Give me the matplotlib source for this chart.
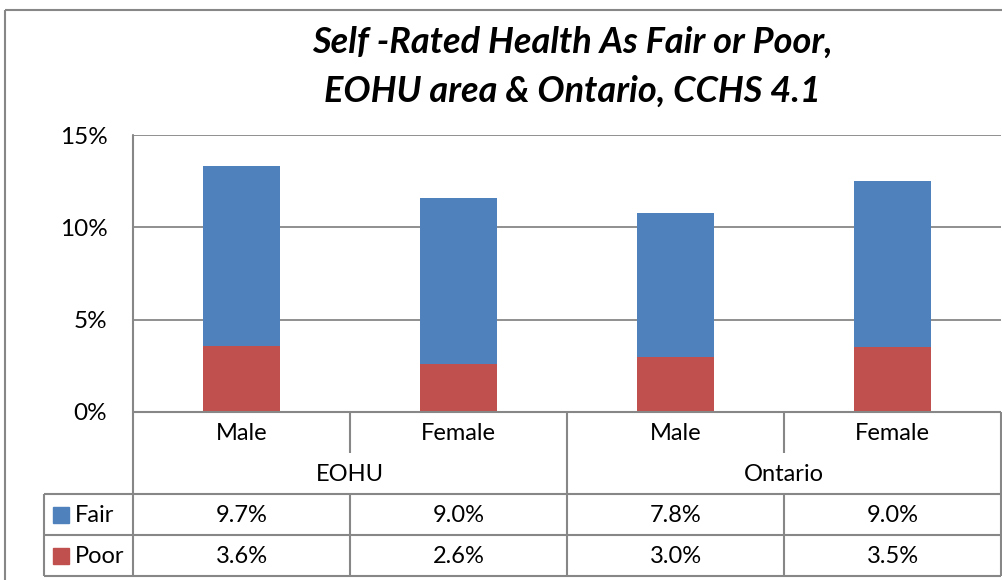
import matplotlib
matplotlib.use("Agg")
import matplotlib.pyplot as plt
from matplotlib.patches import Rectangle

# ---- data ----
categories = ["Male", "Female", "Male", "Female"]
groups = ["EOHU", "Ontario"]
fair = [9.7, 9.0, 7.8, 9.0]
poor = [3.6, 2.6, 3.0, 3.5]
series_names = ["Fair", "Poor"]
yticks = [0, 5, 10, 15]
title = "Self -Rated Health As Fair or Poor,\nEOHU area & Ontario, CCHS 4.1"

BLUE = "#4F81BD"
RED = "#C0504D"
GRID = "#878787"
FONT = "Lato"

W, H = 1003, 580
fig = plt.figure(figsize=(W / 100, H / 100), dpi=100)
fig.patch.set_facecolor("white")

# plot area in pixels
PL, PR, PT, PB = 133, 1001, 135, 412

ax = fig.add_axes([PL / W, 1 - PB / H, (PR - PL) / W, (PB - PT) / H])
x = list(range(len(categories)))
ax.bar(x, poor, width=0.355, color=RED, zorder=3)
ax.bar(x, fair, width=0.355, bottom=poor, color=BLUE, zorder=3)
ax.set_xlim(-0.5, len(categories) - 0.5)
ax.set_ylim(0, 15)
ax.set_yticks(yticks)
ax.set_yticklabels([f"{v}%" for v in yticks], fontsize=17.5, family=FONT)
ax.tick_params(axis="y", length=0, pad=18.5)
ax.set_xticks([])
ax.grid(axis="y", color=GRID, linewidth=1.3, zorder=0)
for s in ["top", "right", "bottom"]:
    ax.spines[s].set_visible(False)
ax.spines["left"].set_color(GRID)
ax.spines["left"].set_linewidth(1.3)
ax.set_facecolor("none")

# overlay in pixel coordinates for the data table and frame
ov = fig.add_axes([0, 0, 1, 1])
ov.set_xlim(0, W)
ov.set_ylim(H, 0)
ov.axis("off")
ov.set_facecolor("none")

lw = 1.5
def hl(y, x0, x1):
    ov.plot([x0, x1], [y, y], color=GRID, lw=lw, solid_capstyle="butt")
def vl(x_, y0, y1):
    ov.plot([x_, x_], [y0, y1], color=GRID, lw=lw, solid_capstyle="butt")

# outer chart frame
vl(5, 10, H)
hl(10, 5, W)

n = len(categories)
cw = (PR - PL) / n
R1, R2, R3, R4, R5 = 412, 453, 494, 535, 576
LL = 44

hl(R1, PL, PR)
hl(R3, LL, PR)
hl(R4, LL, PR)
hl(R5, LL, PR)
vl(LL, R3, R5)
vl(PL, PT, R5)
for i in range(1, n):
    xx = PL + i * cw
    if i % 2 == 0:
        vl(xx, R1, R5)
    else:
        vl(xx, R1, R2)
        vl(xx, R3, R5)
vl(PR, R1, R5)

fs = 17
for i, c in enumerate(categories):
    cx = PL + (i + 0.5) * cw
    ov.text(cx, (R1 + R2) / 2 + 1, c, ha="center", va="center", fontsize=fs, family=FONT)
    ov.text(cx, (R3 + R4) / 2 + 1, f"{fair[i]:.1f}%", ha="center", va="center", fontsize=fs, family=FONT)
    ov.text(cx, (R4 + R5) / 2 + 1, f"{poor[i]:.1f}%", ha="center", va="center", fontsize=fs, family=FONT)
for j, g in enumerate(groups):
    cx = PL + (2 * j + 1) * cw
    ov.text(cx, (R2 + R3) / 2 + 1, g, ha="center", va="center", fontsize=fs, family=FONT)

for (name, col, y0, y1) in [(series_names[0], BLUE, R3, R4), (series_names[1], RED, R4, R5)]:
    ym = (y0 + y1) / 2
    ov.add_patch(Rectangle((53, ym - 8), 16, 16, color=col))
    ov.text(75, ym + 1, name, ha="left", va="center", fontsize=fs, family=FONT)

ov.text(572, 67, title, ha="center", va="center", fontsize=26, family=FONT,
        fontweight="bold", fontstyle="italic", linespacing=1.6)

fig.savefig("out.png", dpi=100)
